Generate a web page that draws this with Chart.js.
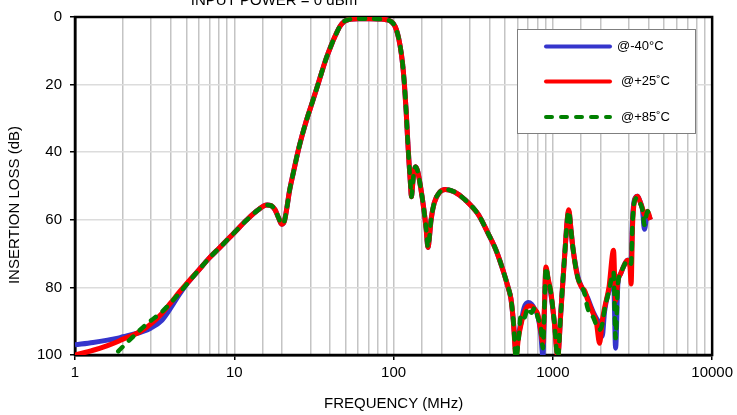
<!DOCTYPE html>
<html>
<head>
<meta charset="utf-8">
<script src="https://cdn.jsdelivr.net/npm/chart.js@4.4.1/dist/chart.umd.min.js"></script>
<style>
  html, body { margin: 0; padding: 0; background: #fff; }
  canvas { display: block; }
</style>
</head>
<body>
<canvas id="c" width="737" height="415"></canvas>
<script>
// ---- DATA ----
const titleText = "INPUT POWER = 0 dBm";
const xTitle = "FREQUENCY (MHz)";
const yTitle = "INSERTION LOSS (dB)";
const seriesNames = ["@-40°C", "@+25˚C", "@+85˚C"];
const yTicks = [0, 20, 40, 60, 80, 100];

const freqMHz = [1, 1.3, 1.6, 1.86, 2, 2.3, 2.6, 3, 3.5, 4, 4.5, 5, 6, 7, 8, 10, 12, 14, 16, 17, 18, 19, 19.8, 20.6, 21.3, 22.2, 23.5, 25.5, 28, 31, 34, 37.6, 40.5, 43.4, 46, 49, 53, 60, 70, 80, 90, 97, 102, 106, 110, 114, 117, 120, 122.5, 125, 127.5, 129.5, 131.5, 134, 137.5, 142, 148, 155, 160, 164.5, 168, 172, 180, 195, 211, 240, 280, 340, 392, 440, 487, 520, 546, 565, 587, 608, 631, 660, 700, 735, 770, 805, 841, 866, 885, 904, 935, 972, 1020, 1074, 1120, 1180, 1259, 1300, 1334, 1430, 1520, 1585, 1650, 1728, 1800, 1870, 1966, 2040, 2113, 2250, 2404, 2477, 2560, 2661, 2800, 2943, 3050, 3100, 3162, 3254, 3398, 3520, 3651, 3758, 3926, 4100];

const lossM40 = [97, 96.3, 95.6, 95, 94.6, 93.9, 93.2, 92, 89.8, 86, 82.2, 79.2, 74.8, 71.2, 68.5, 63.8, 60, 57.2, 55.6, 55.8, 57, 59.5, 61.3, 60.5, 57, 51.5, 46, 38.5, 31.5, 25, 19, 12.5, 8.5, 5.2, 2.8, 1.3, 0.7, 0.5, 0.5, 0.6, 0.8, 1.4, 2.7, 5, 8.6, 14, 20, 28, 36, 43, 49, 53.2, 50, 46, 44.3, 45.8, 50.5, 57, 62.5, 68.2, 65, 60, 55, 51.8, 51, 51.7, 54, 58.4, 64, 69, 75, 79.5, 83.5, 90, 99, 94, 90.5, 86, 84.5, 85, 86.5, 88.5, 94, 100.5, 87, 74.5, 78, 82, 90, 100, 88, 72, 57.5, 63, 68, 76.5, 80, 81.5, 83, 85.5, 87.5, 89, 91, 94.5, 87, 81, 77, 98, 79, 76, 73.5, 72, 72, 72, 60, 54, 53, 54.5, 57, 62.8, 58, 60];

const loss25 = [100, 98.6, 97.2, 96, 95.3, 94.2, 92.9, 90.8, 87.8, 84.5, 81.5, 79, 74.8, 71.2, 68.5, 63.8, 60, 57.2, 55.6, 55.8, 57, 59.5, 61.3, 60.5, 57, 51.5, 46, 38.5, 31.5, 25, 19, 12.5, 8.5, 5.2, 2.8, 1.3, 0.7, 0.5, 0.5, 0.6, 0.8, 1.4, 2.7, 5, 8.6, 14, 20, 28, 36, 43, 49, 53.2, 50, 46, 44.3, 45.8, 50.5, 57, 62.5, 68.2, 65, 60, 55, 51.8, 51, 51.7, 54, 58.4, 64, 69, 75, 79.5, 83.5, 90, 100.5, 95, 91, 87.5, 85.5, 85.5, 86.5, 88, 93, 96.5, 86, 74, 77.5, 81.5, 90, 100.5, 88, 72, 57, 63, 68, 77, 80, 81, 83.5, 86, 88, 90, 96.5, 90, 86, 80, 69, 84, 78, 76, 73.5, 72, 74, 79, 62, 54.5, 53, 54.5, 56.6, 58.5, 57.5, 60];

const loss85 = [null, null, 102, 99, 97.5, 94.7, 92.3, 89.8, 87.3, 84.5, 81.8, 79.2, 74.8, 71.2, 68.5, 63.8, 60, 57.2, 55.6, 55.8, 57, 59.5, 61.3, 60.5, 57, 51.5, 46, 38.5, 31.5, 25, 19, 12.5, 8.5, 5.2, 2.8, 1.3, 0.7, 0.5, 0.5, 0.6, 0.8, 1.4, 2.7, 5, 8.6, 14, 20, 28, 36, 43, 49, 53.2, 50, 46, 44.3, 45.8, 50.5, 57, 62.5, 68.2, 65, 60, 55, 51.8, 51, 51.7, 54, 58.4, 64, 69, 75, 79.5, 83.5, 90, 101, 96, 88, 89, 86, 87.5, 86, 89, 92, 98, 86, 74, 77.5, 81.5, 90, 101, 88, 72, 57.5, 63, 68, 77, 79.5, 82, 86, 88, 89, 91, 92.5, 91, 86.5, 81, 75.5, 95, 79, 76, 73.5, 72, 72.5, 73, 61, 54.5, 53.5, 55, 57, 61.5, 57.5, 59.5];

// ---- helpers ----
function toPoints(xs, ys) {
  const out = [];
  for (let i = 0; i < xs.length; i++) if (ys[i] !== null) out.push({ x: xs[i], y: ys[i] });
  return out;
}
function isDecade(v) {
  if (!(v > 0)) return false;
  const l = Math.log10(v);
  return Math.abs(l - Math.round(l)) < 1e-9;
}
const FONT = "'Liberation Sans', Arial, sans-serif";

const extras = {
  id: 'extras',
  beforeDatasetsDraw(chart) {
    const { ctx, chartArea: a } = chart;
    ctx.save();
    ctx.strokeStyle = '#000';
    ctx.lineWidth = 2.5;
    ctx.strokeRect(a.left, a.top, a.right - a.left, a.bottom - a.top);
    ctx.restore();
  },
  afterDraw(chart) {
    const { ctx } = chart;
    ctx.save();
    // title (partly off canvas, as in the reference)
    ctx.fillStyle = '#000';
    ctx.font = '15px ' + FONT;
    ctx.textAlign = 'center';
    ctx.textBaseline = 'alphabetic';
    ctx.fillText(titleText, 274, 5);
    // y axis title
    ctx.save();
    ctx.translate(15, 205);
    ctx.rotate(-Math.PI / 2);
    ctx.textBaseline = 'middle';
    ctx.fillText(yTitle, 0, 0);
    ctx.restore();
    // legend box
    ctx.fillStyle = '#fff';
    ctx.fillRect(517, 29, 178, 105);
    ctx.strokeStyle = '#7f7f7f';
    ctx.lineWidth = 1;
    ctx.strokeRect(517.5, 29.5, 178, 104);
    const rows = [
      { y: 46.5, color: '#3535cc', dash: [], name: seriesNames[0], tx: 617 },
      { y: 81.5, color: '#ff0000', dash: [], name: seriesNames[1], tx: 621 },
      { y: 117, color: '#008000', dash: [6, 9], name: seriesNames[2], tx: 621 }
    ];
    ctx.font = '13px ' + FONT;
    ctx.textAlign = 'left';
    ctx.textBaseline = 'middle';
    rows.forEach(r => {
      ctx.beginPath();
      ctx.strokeStyle = r.color;
      ctx.lineWidth = 4;
      ctx.lineCap = 'round';
      ctx.setLineDash(r.dash);
      ctx.moveTo(546, r.y);
      ctx.lineTo(610, r.y);
      ctx.stroke();
      ctx.setLineDash([]);
      ctx.fillStyle = '#000';
      ctx.fillText(r.name, r.tx, r.y);
    });
    ctx.restore();
  }
};

new Chart(document.getElementById('c'), {
  type: 'line',
  data: {
    datasets: [
      { label: seriesNames[0], order: 3, data: toPoints(freqMHz, lossM40), borderColor: '#3535cc', borderWidth: 5, cubicInterpolationMode: 'monotone', pointRadius: 0, fill: false },
      { label: seriesNames[1], order: 2, data: toPoints(freqMHz, loss25), borderColor: '#ff0000', borderWidth: 5, cubicInterpolationMode: 'monotone', pointRadius: 0, fill: false },
      { label: seriesNames[2], order: 1, data: toPoints(freqMHz, loss85), borderColor: '#008000', borderWidth: 4.5, borderDash: [6, 9], borderCapStyle: 'round', cubicInterpolationMode: 'monotone', pointRadius: 0, fill: false }
    ]
  },
  plugins: [extras],
  options: {
    responsive: false,
    animation: false,
    events: [],
    layout: { padding: { left: 0, right: 22, top: 14, bottom: 0 } },
    plugins: { legend: { display: false }, title: { display: false }, tooltip: { enabled: false } },
    scales: {
      x: {
        type: 'logarithmic',
        min: 1, max: 10000,
        afterFit(s) { s.height = 60; },
        border: { display: true, color: '#000', width: 2.5 },
        grid: {
          color: '#c4c4c4',
          lineWidth: 1.5,
          tickLength: 5,
          tickColor: c => (c.tick && isDecade(c.tick.value)) ? '#000' : 'rgba(0,0,0,0)',
          tickWidth: 1.5
        },
        ticks: {
          autoSkip: false, maxRotation: 0, minRotation: 0,
          padding: 4,
          color: '#000',
          font: { family: FONT, size: 15 },
          callback: v => isDecade(v) ? String(Math.round(v)) : ''
        },
        title: { display: true, text: xTitle, color: '#000', font: { family: FONT, size: 15 }, padding: { top: 2, bottom: 2 } }
      },
      y: {
        min: 0, max: 100, reverse: true,
        afterBuildTicks(s) { s.ticks = yTicks.map(v => ({ value: v })); },
        afterFit(s) { s.width = 75; },
        border: { display: true, color: '#000', width: 2.5 },
        grid: { color: '#dcdcdc', lineWidth: 1.5, tickLength: 5, tickColor: '#000', tickWidth: 1.5 },
        ticks: { padding: 8, color: '#000', font: { family: FONT, size: 15 } },
        title: { display: false }
      }
    }
  }
});
</script>
</body>
</html>
